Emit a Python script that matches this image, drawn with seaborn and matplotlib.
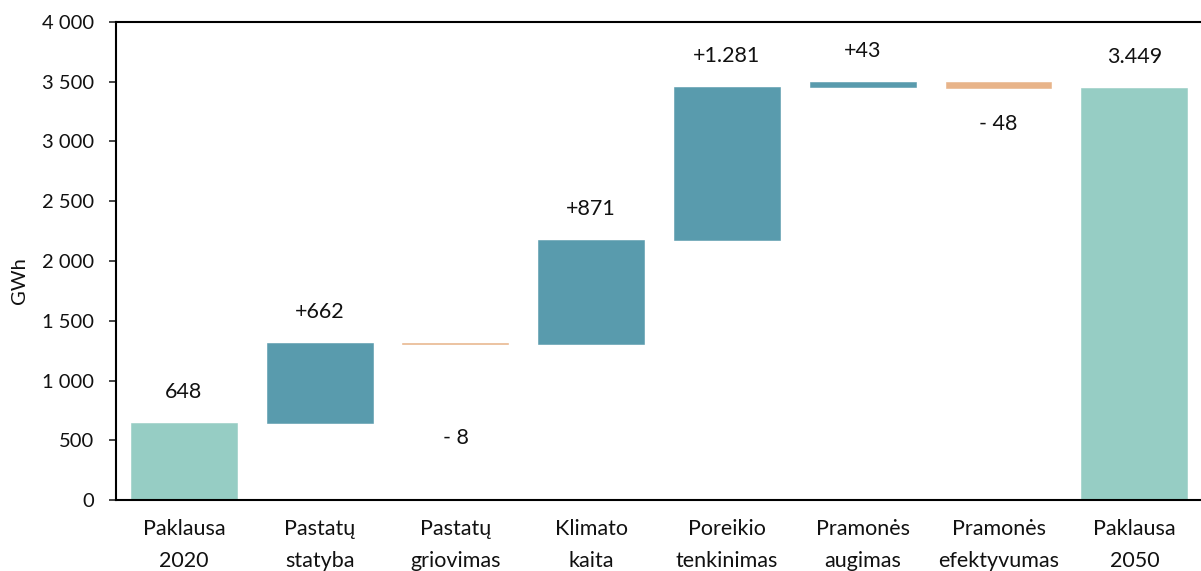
import matplotlib
matplotlib.use("Agg")
import matplotlib.pyplot as plt
import seaborn as sns
import numpy as np
from matplotlib.ticker import FuncFormatter

categories = ["Paklausa\n2020", "Pastatų\nstatyba", "Pastatų\ngriovimas", "Klimato\nkaita",
              "Poreikio\ntenkinimas", "Pramonės\naugimas", "Pramonės\nefektyvumas", "Paklausa\n2050"]
changes = [648, 662, -8, 871, 1281, 43, -48, 3449]
kinds = ["total", "up", "down", "up", "up", "up", "down", "total"]

palette = {"total": "#96CDC4", "up": "#599BAD", "down": "#E8B48A"}

# waterfall geometry: running level before each step
bases, heights = [], []
level = 0
for v, k in zip(changes, kinds):
    if k == "total":
        bases.append(0)
        heights.append(v)
        level = v
    elif v >= 0:
        bases.append(level)
        heights.append(v)
        level += v
    else:
        bases.append(level + v)
        heights.append(-v)
        level += v


def fmt_label(v, k):
    s = f"{abs(v):,}".replace(",", ".")
    if k == "total":
        return s
    return ("+" if v >= 0 else "- ") + s


sns.set_style("white")
plt.rcParams["font.family"] = ["Lato", "DejaVu Sans"]
plt.rcParams["text.color"] = "#111111"

fig = plt.figure(figsize=(12.01, 5.71), dpi=100)
ax = fig.add_axes([0.0966, 0.1243, 0.9044, 0.8372])

sns.barplot(x=list(range(len(categories))), y=heights, bottom=bases, width=0.78,
            color=palette["up"], ax=ax, saturation=1)
for p, k in zip(ax.patches, kinds):
    p.set_facecolor(palette[k])
    p.set_edgecolor(palette[k])
    p.set_linewidth(0.4)

# value labels
label_gap = [28, 28, 94, 28, 28, 28, 36, 28]
for i, (v, k) in enumerate(zip(changes, kinds)):
    top = bases[i] + heights[i]
    if k == "down":
        ax.annotate(fmt_label(v, k), (i, bases[i]), xytext=(0, -label_gap[i]),
                    textcoords="offset pixels", ha="center", va="center", fontsize=15.5)
    else:
        ax.annotate(fmt_label(v, k), (i, top), xytext=(0, label_gap[i] + 3),
                    textcoords="offset pixels", ha="center", va="center", fontsize=15.5)

ax.set_xlim(-0.5, 7.5)
ax.set_ylim(0, 4000)
ax.set_yticks(np.arange(0, 4001, 500))
ax.yaxis.set_major_formatter(FuncFormatter(lambda x, _: f"{int(x):,}".replace(",", " ")))
ax.set_xticks(range(len(categories)))
ax.set_xticklabels(categories, fontsize=15.5, linespacing=1.75, color="#111111")
ax.tick_params(axis="x", length=0, pad=14)
ax.tick_params(axis="y", length=5, width=1.2, direction="out", pad=11, labelsize=14.5,
               left=True, labelcolor="#111111")
ax.set_xlabel("")
ax.set_ylabel("GWh", fontsize=14.5, color="#111111")
ax.yaxis.set_label_coords(-0.081, 0.46)

for side in ["left", "bottom", "top"]:
    ax.spines[side].set_visible(True)
    ax.spines[side].set_color("black")
    ax.spines[side].set_linewidth(1.5)
ax.spines["right"].set_color("#BBBBBB")
ax.spines["right"].set_linewidth(1)

fig.savefig("out.png", dpi=100)
